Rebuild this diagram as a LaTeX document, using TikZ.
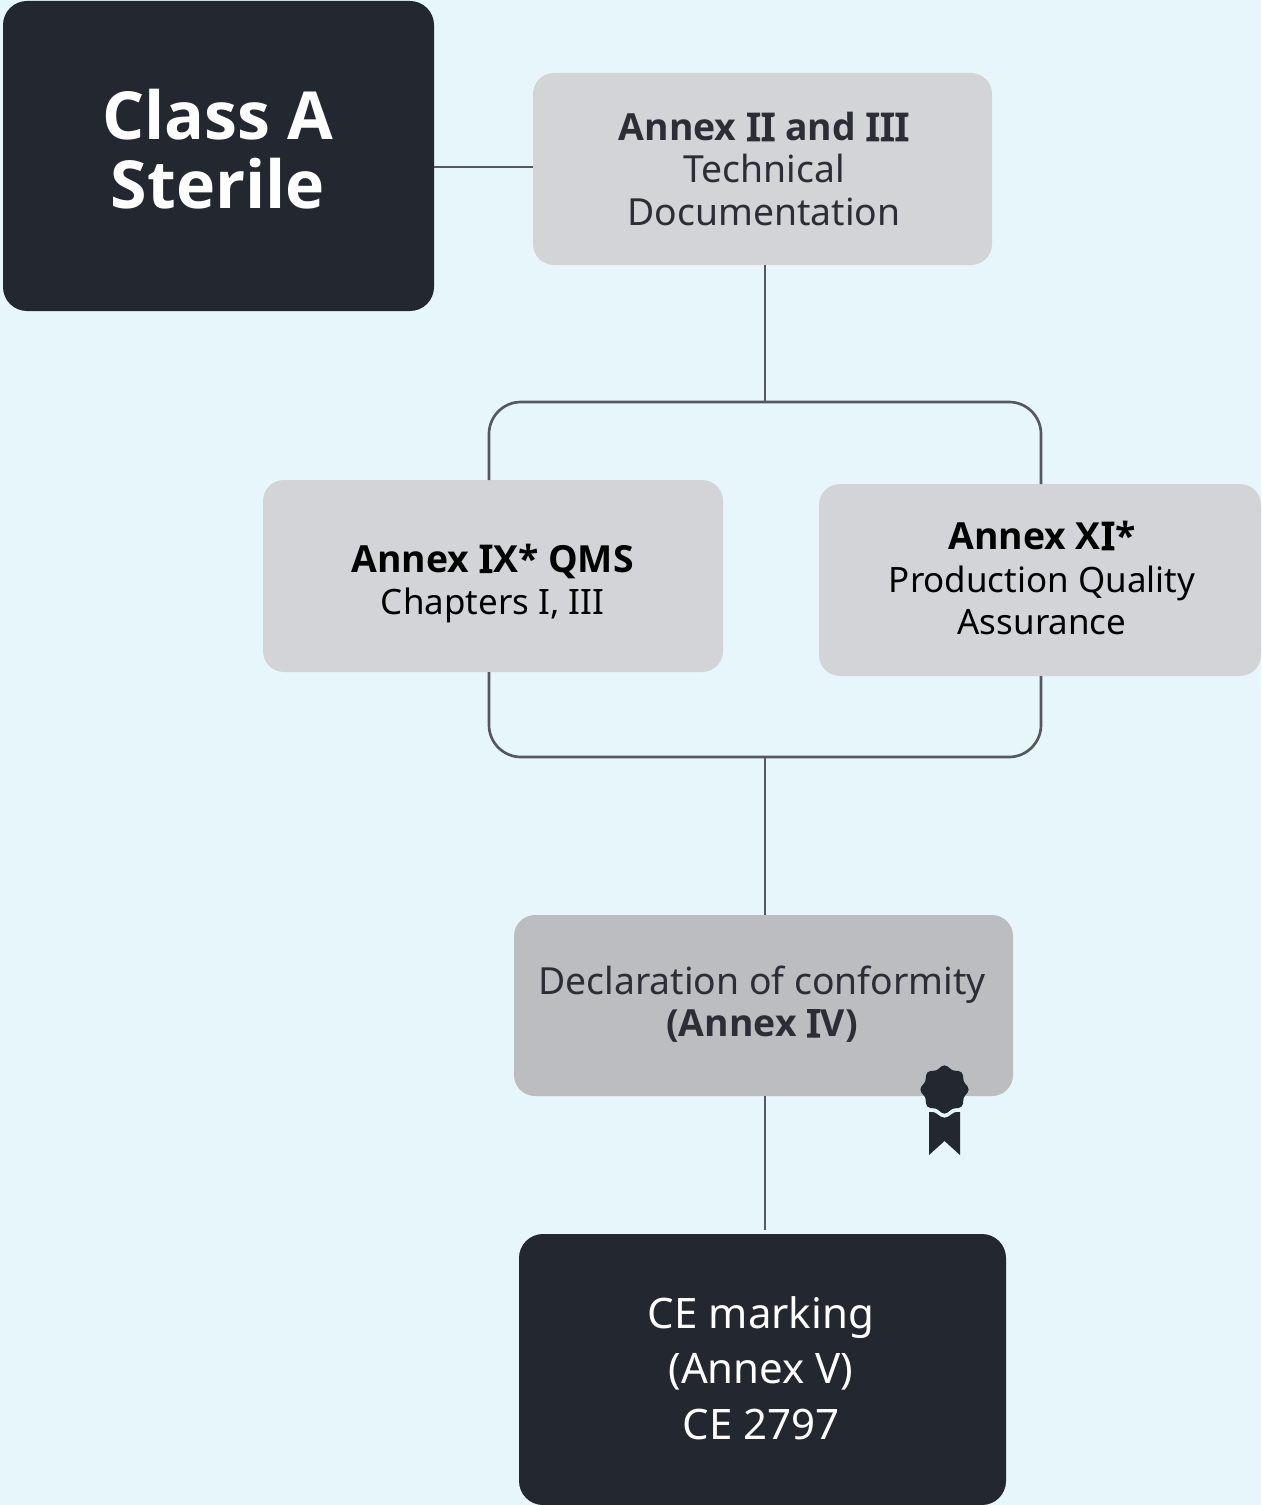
\documentclass[tikz,border=0pt]{standalone}
\usepackage{fontspec}
\setmainfont{Noto Sans}
\newfontfamily\obf{Open Sans}
\newfontfamily\nbf{Noto Sans}[FakeBold=5,FakeStretch=1.15]
\newcommand{\bt}[1]{{\fontsize{28}{32}\selectfont\obf\bfseries #1}}
\newcommand{\bi}[1]{{\fontsize{28}{32}\selectfont\nbf #1}}
\definecolor{bgc}{HTML}{E7F6FB}
\definecolor{darkc}{HTML}{222730}
\definecolor{lightc}{HTML}{D2D4D7}
\definecolor{midc}{HTML}{BCBDC0}
\definecolor{linec}{HTML}{555861}
\definecolor{txtc}{HTML}{2B2E37}
\tikzset{
  px/.style={x=0.75pt,y=-0.75pt},
  boxl/.style={fill=lightc,rounded corners=15.75pt,inner sep=0pt,minimum width=#1*0.75pt,minimum height=144pt},
  boxm/.style={fill=midc,rounded corners=15.75pt,inner sep=0pt,minimum width=499*0.75pt,minimum height=135.75pt},
  boxd/.style={fill=darkc,rounded corners=18pt,inner sep=0pt},
  lin/.style={draw=linec,line width=2pt},
  bodya/.style={font=\fontsize{28}{32}\selectfont,align=center},
  bodyb/.style={font=\fontsize{26.2}{32}\selectfont,align=center}
}
\begin{document}
\begin{tikzpicture}[px]
\useasboundingbox (0,0) rectangle (1261,1505);
\fill[bgc] (0,0) rectangle (1261,1505);
% boxes
\node[boxd,minimum width=323.25pt,minimum height=232.5pt] (classA) at (218.5,156) {};
\node[boxl=459] (tech) at (762.5,169) {};
\node[boxl=460] (qms) at (493,576) {};
\node[boxl=442] (prod) at (1040,580) {};
\node[boxm] (decl) at (763.5,1005.5) {};
\node[boxd,minimum width=365.25pt,minimum height=203.25pt] (ce) at (762.5,1369.5) {};
\coordinate (top) at (765,402);
\coordinate (bot) at (765,757);
\coordinate (ceTop) at (765,1230);
% connectors
\draw[lin] (classA.east |- 0,167) -- (tech.west |- 0,167);
\draw[lin] (tech.south -| top) -- (top);
\draw[lin] (bot) -- (decl.north -| bot);
\draw[lin] (decl.south -| bot) -- (ceTop);
\draw[lin,rounded corners=24pt] (489,480) -- (489,402) -- (1041,402) -- (1041,484);
\draw[lin,rounded corners=24pt] (489,672) -- (489,757) -- (1041,757) -- (1041,676);
% texts
\node[font=\fontsize{49.7}{51.6}\selectfont\obf\bfseries,text=white,align=center] (t1) at (218,149.5) {Class A\\Sterile};
\node[bodya,text=txtc] (t2) at (764,169) {\bt{Annex }\bi{II}\bt{ and }\bi{III}\\Technical\\Documentation};
\node[bodyb,text=black] (t3) at (492.5,583.5) {\bt{Annex }\bi{I}\bt{X* QMS}\\Chapters I, III};
\node[bodyb,text=black] (t4) at (1042,578) {\bt{Annex X}\bi{I}\bt{*}\\Production Quality\\Assurance};
\node[bodya,text=txtc] (t5) at (762,1004) {Declaration of conformity\\\bt{(Annex }\bi{I}\bt{V)}};
\node[font=\fontsize{31.5}{41.5}\selectfont,text=white,align=center] (t6) at (761,1368) {CE marking\\(Annex V)\\CE 2797};
% badge
\fill[darkc] (929,1112) -- (960,1112) -- (960,1155) -- (944.5,1141) -- (929,1155) -- cycle;
\begin{scope}
\clip (900,1096) rectangle (990,1135);
\fill[bgc] plot[smooth cycle,samples=48,domain=0:352.5] ({944.5+(26.5+1.6*cos(8*\x))*cos(\x)},{1089.5+(26.5+1.6*cos(8*\x))*sin(\x)});
\end{scope}
\fill[darkc] plot[smooth cycle,samples=48,domain=0:352.5] ({944.5+(22.5+1.6*cos(8*\x))*cos(\x)},{1089.5+(22.5+1.6*cos(8*\x))*sin(\x)});
\end{tikzpicture}
\end{document}
